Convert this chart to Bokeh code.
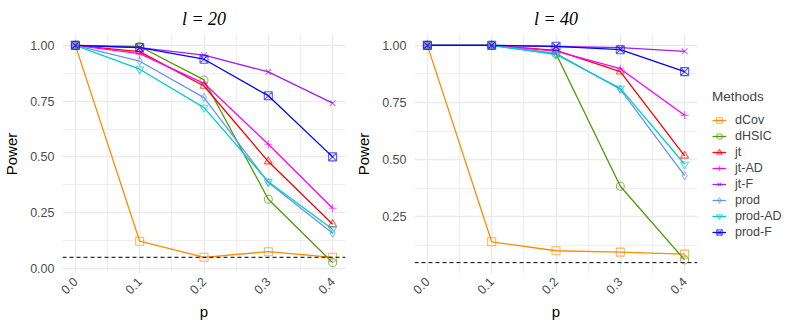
import math
from bokeh.plotting import figure
from bokeh.models import Range1d, FixedTicker, Span, Legend, LegendItem, NumeralTickFormatter, Title
from bokeh.layouts import row
from bokeh.embed import file_html
from bokeh.resources import INLINE

p_vals = [0.0, 0.1, 0.2, 0.3, 0.4]
methods = ["dCov", "dHSIC", "jt", "jt-AD", "jt-F", "prod", "prod-AD", "prod-F"]

l20_dCov = [1.0, 0.122, 0.05, 0.075, 0.05]
l20_dHSIC = [1.0, 0.995, 0.845, 0.31, 0.026]
l20_jt = [1.0, 0.972, 0.818, 0.479, 0.198]
l20_jtAD = [1.0, 0.963, 0.83, 0.557, 0.27]
l20_jtF = [1.0, 0.99, 0.956, 0.881, 0.741]
l20_prod = [1.0, 0.929, 0.766, 0.385, 0.158]
l20_prodAD = [1.0, 0.893, 0.721, 0.389, 0.176]
l20_prodF = [1.0, 0.99, 0.938, 0.774, 0.50]

l40_dCov = [1.0, 0.141, 0.102, 0.096, 0.087]
l40_dHSIC = [1.0, 1.0, 0.963, 0.384, 0.062]
l40_jt = [1.0, 1.0, 0.978, 0.885, 0.517]
l40_jtAD = [1.0, 1.0, 0.975, 0.898, 0.694]
l40_jtF = [1.0, 1.0, 0.995, 0.99, 0.974]
l40_prod = [1.0, 1.0, 0.965, 0.808, 0.43]
l40_prodAD = [1.0, 1.0, 0.96, 0.812, 0.48]
l40_prodF = [1.0, 1.0, 0.996, 0.981, 0.885]

alpha_level = 0.05
y_ticks = [0.0, 0.25, 0.5, 0.75, 1.0]
y_minor = [0.125, 0.375, 0.625, 0.875]
x_minor = [0.05, 0.15, 0.25, 0.35]

colors = ["#FF8C00", "#4E9A06", "#FF0000", "#FF00FF", "#A020F0", "#6495ED", "#00CDCD", "#0000FF"]
markers = ["square", "circle", "triangle", "cross", "x", "diamond", "inverted_triangle", "square_x"]

series20 = [l20_dCov, l20_dHSIC, l20_jt, l20_jtAD, l20_jtF, l20_prod, l20_prodAD, l20_prodF]
series40 = [l40_dCov, l40_dHSIC, l40_jt, l40_jtAD, l40_jtF, l40_prod, l40_prodAD, l40_prodF]

FONT = "Liberation Sans"


def make_panel(series, yr, title, right_border):
    p = figure(frame_width=283, frame_height=239, output_backend="svg", toolbar_location=None,
               x_range=Range1d(-0.02, 0.42), y_range=Range1d(*yr),
               min_border_left=62, min_border_right=right_border, min_border_top=34,
               min_border_bottom=50)
    p.outline_line_color = None
    p.add_layout(Title(text=title, align="center", text_font="Liberation Serif",
                       text_font_style="italic", text_font_size="18px", standoff=11,
                       text_color="black"), "above")
    p.xaxis.ticker = FixedTicker(ticks=p_vals, minor_ticks=x_minor)
    p.yaxis.ticker = FixedTicker(ticks=y_ticks, minor_ticks=y_minor)
    p.yaxis.formatter = NumeralTickFormatter(format="0.00")
    p.xaxis.formatter = NumeralTickFormatter(format="0.0")
    for ax in (p.xaxis[0], p.yaxis[0]):
        ax.axis_line_color = None
        ax.major_tick_line_color = None
        ax.minor_tick_line_color = None
        ax.major_tick_out = 0
        ax.major_tick_in = 0
        ax.minor_tick_out = 0
        ax.minor_tick_in = 0
        ax.major_label_text_font = FONT
        ax.major_label_text_font_size = "12.5px"
        ax.major_label_text_color = "#4D4D4D"
        ax.axis_label_text_font = FONT
        ax.axis_label_text_font_size = "15px"
        ax.axis_label_text_font_style = "normal"
        ax.axis_label_text_color = "black"
    p.xaxis.axis_label = "p"
    p.yaxis.axis_label = "Power"
    p.xaxis.major_label_orientation = math.pi / 4
    p.xaxis.major_label_standoff = 6
    p.xaxis.axis_label_standoff = 2
    p.yaxis.major_label_standoff = 8
    p.yaxis.axis_label_standoff = 7
    for g in (p.xgrid[0], p.ygrid[0]):
        g.grid_line_color = "#EBEBEB"
        g.grid_line_width = 1.4
        g.minor_grid_line_color = "#EBEBEB"
        g.minor_grid_line_width = 0.8

    p.add_layout(Span(location=alpha_level, dimension="width", line_color="black",
                      line_dash="4 3", line_width=1))

    lines, points = [], []
    for vals, c in zip(series, colors):
        lines.append(p.line(p_vals, vals, line_color=c, line_width=1.3))
    for vals, c, m in zip(series, colors, markers):
        points.append(p.scatter(p_vals, vals, marker=m, size=8, fill_color=None,
                                line_color=c, line_width=1.1, line_alpha=0.65))
    return p, lines, points


left, _, _ = make_panel(series20, (-0.0227, 1.0487), "l = 20", 7)
right, rlines, rpoints = make_panel(series40, (0.0025, 1.0475), "l = 40", 7)

items = [LegendItem(label=m, renderers=[l, s]) for m, l, s in zip(methods, rlines, rpoints)]
legend = Legend(items=items, title="Methods", location=(15, 33),
                border_line_color=None, background_fill_alpha=0,
                title_text_font=FONT, title_text_font_size="13.5px", title_text_font_style="normal",
                label_text_font=FONT, label_text_font_size="12.5px",
                glyph_width=14, glyph_height=16, label_height=16, spacing=0,
                padding=0, margin=10, label_standoff=9, title_standoff=8)
right.add_layout(legend, "right")

layout = row(left, right)
open("out.html", "w").write(file_html(layout, INLINE))
